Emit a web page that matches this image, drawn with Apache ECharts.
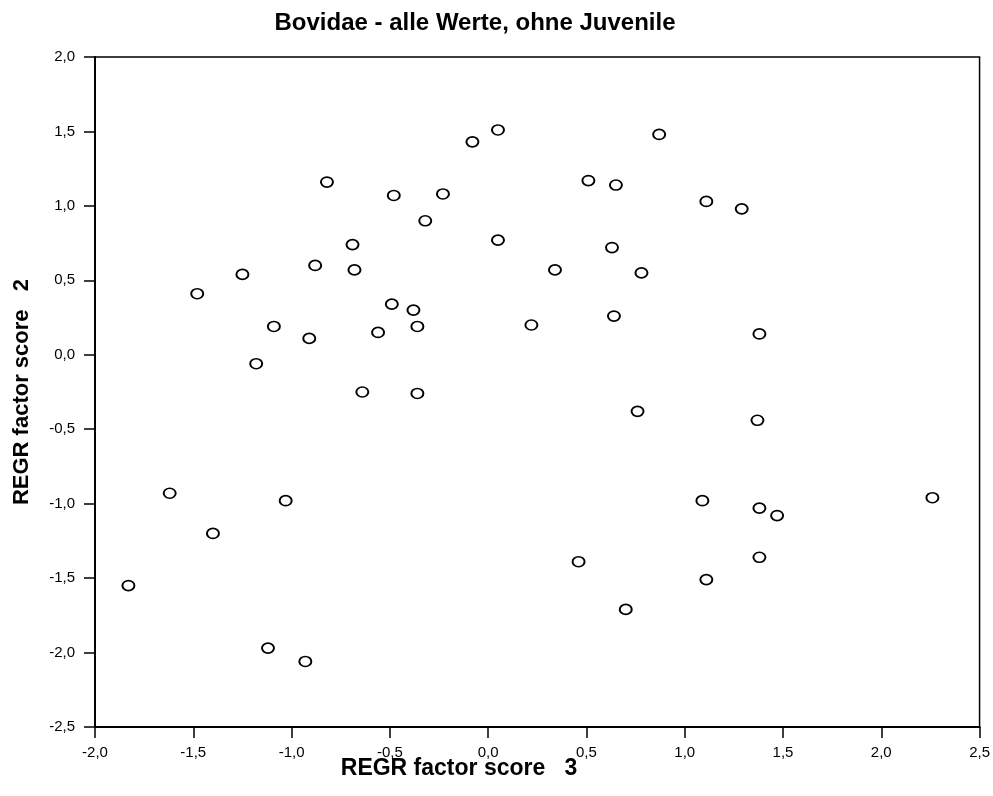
<!DOCTYPE html>
<html>
<head>
<meta charset="utf-8">
<script src="https://cdn.jsdelivr.net/npm/echarts@6/dist/echarts.min.js"></script>
<style>html,body{margin:0;padding:0;background:#fff;}#chart{width:993px;height:796px;}</style>
</head>
<body>
<div id="chart"></div>
<script>
const titleText = 'Bovidae - alle Werte, ohne Juvenile';
const xAxisTitle = 'REGR factor score   3';
const yAxisTitle = 'REGR factor score   2';
const xTicks = { min: -2.0, max: 2.5, interval: 0.5 };
const yTicks = { min: -2.5, max: 2.0, interval: 0.5 };
const factor3 = [-0.08, 0.05, -0.82, -0.48, -0.23, -0.32, -0.69, 0.05, 0.87, 0.51, 0.65, 1.11, 1.29, 0.63, 0.34, 0.78, 0.22, 0.64, 1.38, -1.25, -1.48, -0.88, -0.68, -0.49, -0.38, -1.09, -0.91, -0.56, -0.36, -1.18, -0.64, -0.36, -1.62, -1.03, -1.40, -1.83, -1.12, -0.93, 0.76, 1.09, 0.46, 1.11, 0.70, 1.37, 1.38, 1.47, 1.38, 2.26];
const factor2 = [1.43, 1.51, 1.16, 1.07, 1.08, 0.90, 0.74, 0.77, 1.48, 1.17, 1.14, 1.03, 0.98, 0.72, 0.57, 0.55, 0.20, 0.26, 0.14, 0.54, 0.41, 0.60, 0.57, 0.34, 0.30, 0.19, 0.11, 0.15, 0.19, -0.06, -0.25, -0.26, -0.93, -0.98, -1.20, -1.55, -1.97, -2.06, -0.38, -0.98, -1.39, -1.51, -1.71, -0.44, -1.03, -1.08, -1.36, -0.96];

const points = factor3.map((x, i) => [x, factor2[i]]);
const fmt = v => v.toFixed(1).replace('.', ',');
const FONT = '"Liberation Sans", Arial, sans-serif';

const chart = echarts.init(document.getElementById('chart'), null, { renderer: 'canvas' });
const axisCommon = {
  type: 'value',
  axisLine: { show: true, onZero: false, lineStyle: { color: '#000', width: 2 } },
  axisTick: { show: true, inside: false, length: 11, lineStyle: { color: '#000', width: 1.5 } },
  splitLine: { show: false },
  axisLabel: { formatter: fmt, color: '#000', fontSize: 15, fontFamily: FONT }
};
chart.setOption({
  animation: false,
  backgroundColor: '#fff',
  grid: { left: 95, right: 11, top: 57, bottom: 69, show: true, borderColor: '#000', borderWidth: 1.5, backgroundColor: 'transparent' },
  xAxis: Object.assign({}, axisCommon, { min: xTicks.min, max: xTicks.max, interval: xTicks.interval,
    axisLabel: Object.assign({}, axisCommon.axisLabel, { margin: 18 }) }),
  yAxis: Object.assign({}, axisCommon, { min: yTicks.min, max: yTicks.max, interval: yTicks.interval,
    axisLabel: Object.assign({}, axisCommon.axisLabel, { margin: 20 }) }),
  series: [{
    type: 'scatter',
    data: points,
    symbol: 'circle',
    symbolSize: [12, 10],
    itemStyle: { color: '#fff', borderColor: '#000', borderWidth: 1.8, opacity: 1 }
  }],
  graphic: [
    { type: 'text', x: 475, y: 23, style: { text: titleText, font: 'bold 24px ' + FONT, fill: '#000', textAlign: 'center', textVerticalAlign: 'middle' } },
    { type: 'text', x: 459, y: 769, style: { text: xAxisTitle, font: 'bold 23px ' + FONT, fill: '#000', textAlign: 'center', textVerticalAlign: 'middle' } },
    { type: 'text', x: 22, y: 392, rotation: Math.PI / 2, style: { text: yAxisTitle, font: 'bold 22px ' + FONT, fill: '#000', textAlign: 'center', textVerticalAlign: 'middle' } }
  ]
});
</script>
</body>
</html>
